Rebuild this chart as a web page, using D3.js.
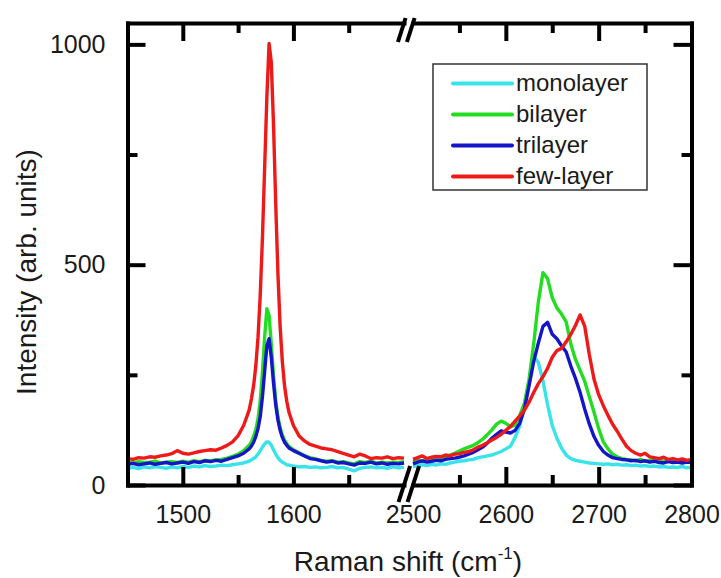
<!DOCTYPE html>
<html><head><meta charset="utf-8">
<script src="https://cdn.jsdelivr.net/npm/d3@7"></script>
<style>
html,body{margin:0;padding:0;background:#fff;}
svg text{font-family:"Liberation Sans",Arial,Helvetica,sans-serif;fill:#1a1a1a;}
</style></head><body>
<svg id="chart" width="721" height="578"></svg>
<script>
// ---- data: Raman spectra, G band window and 2D band window ----
const seriesNames = ["monolayer", "bilayer", "trilayer", "few-layer"];

// G band window (cm^-1)
const gShift = [1450,1455,1460,1465,1470,1475,1480,1485,1490,1495,1500,1505,1510,1515,1520,1525,1530,1535,1540,1545,1550,1555,1560,
  1562,1564,1566,1568,1570,1572,1574,1576,1578,1580,1582,1584,1586,1588,1590,1592,1594,1596,
  1600,1605,1610,1615,1620,1625,1630,1635,1640,1645,1650,1655,1660,1665,1670,1675,1680,1685,1690,1695,1700];
const gMonolayer = [38,40,37,41,39,42,40,38,41,39,42,40,43,41,44,42,43,45,44,46,48,50,54,
  57,60,64,70,78,86,93,98,97,90,80,70,62,56,52,49,46,45,
  43,41,42,40,41,39,40,42,39,40,36,32,38,40,41,39,40,38,41,39,40];
const gBilayer = [52,50,53,51,52,54,50,52,53,51,54,52,55,53,56,55,57,58,61,65,70,78,90,
  98,110,126,150,190,255,335,400,385,320,250,192,155,130,113,102,94,88,
  80,73,67,62,59,56,54,55,52,53,50,48,53,51,54,50,52,50,52,51,53];
const gTrilayer = [47,49,46,48,50,47,49,51,48,50,52,49,53,51,55,53,56,54,58,62,66,72,82,
  88,97,110,128,155,200,258,315,332,290,232,182,148,124,108,97,90,84,
  78,72,66,60,58,55,52,54,50,51,48,45,50,49,52,48,50,47,49,48,50];
const gFewLayer = [60,58,62,61,64,63,66,68,71,78,72,70,73,76,78,80,79,84,90,98,112,135,170,
  195,225,270,335,430,560,720,880,1002,960,820,640,480,360,280,225,190,165,
  135,112,100,92,88,84,82,80,76,72,68,64,70,66,60,62,61,64,60,62,61];

// 2D band window (cm^-1)
const dShift = [2500,2505,2510,2515,2520,2525,2530,2535,2540,2545,2550,2555,2560,2565,2570,2575,2580,2585,2590,2595,
  2600,2605,2610,2615,2620,2625,2630,2635,2640,2645,2650,2655,2660,2665,2670,2675,2680,2685,2690,2695,
  2700,2705,2710,2715,2720,2725,2730,2735,2740,2745,2750,2755,2760,2765,2770,2775,2780,2785,2790,2795,2800];
const dMonolayer = [42,44,46,44,47,45,48,47,50,52,54,55,57,58,62,64,66,68,72,76,
  82,88,108,135,180,232,292,278,236,182,135,106,84,68,60,56,54,52,50,49,
  48,47,48,46,47,45,46,44,45,43,44,42,43,41,42,40,41,40,42,39,40];
const dBilayer = [52,56,54,58,57,60,62,64,68,72,77,82,86,90,96,104,114,125,138,145,
  140,132,136,158,185,240,320,415,482,468,425,402,388,370,320,285,260,235,200,165,
  128,98,82,70,64,60,58,57,55,58,54,56,55,57,54,56,53,55,54,56,52];
const dTrilayer = [48,52,55,52,54,56,55,58,60,61,63,66,70,74,80,86,95,106,115,123,
  120,118,124,140,172,225,280,322,360,369,342,332,316,302,270,242,210,172,138,110,
  90,76,68,62,60,58,57,55,56,53,55,52,54,51,50,53,51,52,50,52,51];
const dFewLayer = [58,62,66,60,63,65,64,68,66,70,71,74,76,80,86,90,96,102,108,115,
  124,133,145,157,170,188,210,230,246,265,290,305,310,325,342,362,386,360,295,240,
  205,180,158,138,122,104,88,78,72,68,72,64,62,60,63,58,60,57,59,56,58];

const gSeries = [gMonolayer, gBilayer, gTrilayer, gFewLayer];
const dSeries = [dMonolayer, dBilayer, dTrilayer, dFewLayer];

// axis ticks
const yMajor = [0, 500, 1000];
const yMinor = [250, 750];
const gMajor = [1500, 1600];
const gMinor = [1550, 1650];
const dMajor = [2600, 2700, 2800];
const dMinor = [2550, 2650, 2750];
const dBreakLabel = [2500];

// ---- drawing ----
const colors = ["#38e4ea", "#22dd22", "#1515c8", "#ee1a1a"];
const svg = d3.select("#chart");

const plot = {left: 127.5, right: 691.5, top: 23, bottom: 485};
const y = d3.scaleLinear().domain([0, 1048.5]).range([plot.bottom, plot.top]);
const xG = d3.scaleLinear().domain([1450, 1700]).range([plot.left, 404]);
const xD = d3.scaleLinear().domain([2500, 2800]).range([413, plot.right]);

const FRAME = 4, MAJ = 18, MIN = 10;

function styleAxis(g) {
  g.selectAll(".domain").attr("stroke", "#000").attr("stroke-width", FRAME).attr("stroke-linecap", "square");
  g.selectAll(".tick line").attr("stroke", "#000").attr("stroke-width", FRAME);
  g.selectAll("text").attr("font-size", 25).attr("fill", "#1a1a1a")
    .attr("font-family", "'Liberation Sans', Arial, sans-serif");
}
function noDomain(g) { g.select(".domain").remove(); }

// spectra (drawn first, frame on top)
const line = (xs) => d3.line().x((d) => xs(d[0])).y((d) => y(d[1])).curve(d3.curveLinear);
const traces = svg.append("g");
gSeries.forEach((vals, i) => {
  traces.append("path").datum(gShift.map((s, k) => [s, vals[k]]))
    .attr("d", line(xG)).attr("fill", "none").attr("stroke", colors[i])
    .attr("stroke-width", 3.4).attr("stroke-linejoin", "round");
});
dSeries.forEach((vals, i) => {
  traces.append("path").datum(dShift.map((s, k) => [s, vals[k]]))
    .attr("d", line(xD)).attr("fill", "none").attr("stroke", colors[i])
    .attr("stroke-width", 3.4).attr("stroke-linejoin", "round");
});

// bottom and top axes (two segments each)
[[xG, gMajor, gMinor], [xD, dMajor, dMinor]].forEach(([xs, maj, mn]) => {
  svg.append("g").attr("transform", `translate(0,${plot.bottom})`)
    .call(d3.axisBottom(xs).tickValues(maj).tickSizeInner(-MAJ).tickSizeOuter(0).tickPadding(20).tickFormat(d3.format("d")))
    .call(styleAxis);
  svg.append("g").attr("transform", `translate(0,${plot.bottom})`)
    .call(d3.axisBottom(xs).tickValues(mn).tickSizeInner(-MIN).tickSizeOuter(0).tickFormat(""))
    .call(noDomain).call(styleAxis);
  svg.append("g").attr("transform", `translate(0,${plot.top})`)
    .call(d3.axisTop(xs).tickValues(maj).tickSizeInner(-MAJ).tickSizeOuter(0).tickFormat(""))
    .call(styleAxis);
  svg.append("g").attr("transform", `translate(0,${plot.top})`)
    .call(d3.axisTop(xs).tickValues(mn).tickSizeInner(-MIN).tickSizeOuter(0).tickFormat(""))
    .call(noDomain).call(styleAxis);
});
// label under the break
svg.append("g").attr("transform", `translate(0,${plot.bottom})`)
  .call(d3.axisBottom(xD).tickValues(dBreakLabel).tickSize(0).tickPadding(20).tickFormat(d3.format("d")))
  .call(noDomain).call(styleAxis);

// left and right axes
svg.append("g").attr("transform", `translate(${plot.left},0)`)
  .call(d3.axisLeft(y).tickValues(yMajor).tickSizeInner(-MAJ).tickSizeOuter(0).tickPadding(22).tickFormat(d3.format("d")))
  .call(styleAxis);
svg.append("g").attr("transform", `translate(${plot.left},0)`)
  .call(d3.axisLeft(y).tickValues(yMinor).tickSizeInner(-MIN).tickSizeOuter(0).tickFormat(""))
  .call(noDomain).call(styleAxis);
svg.append("g").attr("transform", `translate(${plot.right},0)`)
  .call(d3.axisRight(y).tickValues(yMajor).tickSizeInner(-MAJ).tickSizeOuter(0).tickFormat(""))
  .call(styleAxis);
svg.append("g").attr("transform", `translate(${plot.right},0)`)
  .call(d3.axisRight(y).tickValues(yMinor).tickSizeInner(-MIN).tickSizeOuter(0).tickFormat(""))
  .call(noDomain).call(styleAxis);

// axis-break marks
const gapEnds = [xG(1700), xD(2500)];
const slope = 0.32;
gapEnds.forEach((gx) => {
  [[plot.top - 5, plot.top + 19], [plot.bottom - 19, plot.bottom + 17]].forEach(([y0, y1]) => {
    const ay = y0 < 100 ? plot.top : plot.bottom;
    svg.append("line")
      .attr("x1", gx - (y0 - ay) * slope).attr("y1", y0)
      .attr("x2", gx - (y1 - ay) * slope).attr("y2", y1)
      .attr("stroke", "#000").attr("stroke-width", 4);
  });
});

// axis titles
svg.append("text")
  .attr("transform", "translate(26,272) rotate(-90)")
  .attr("text-anchor", "middle").attr("dominant-baseline", "central")
  .attr("font-size", 28).text("Intensity (arb. units)");
const xt = svg.append("text").attr("x", 408).attr("y", 571)
  .attr("text-anchor", "middle").attr("font-size", 28);
xt.append("tspan").text("Raman shift (cm");
xt.append("tspan").attr("dy", -12).attr("font-size", 17).text("-1");
xt.append("tspan").attr("dy", 12).text(")");

// legend
const legend = svg.append("g");
legend.append("rect").attr("x", 433).attr("y", 64).attr("width", 214).attr("height", 126)
  .attr("fill", "#fff").attr("stroke", "#333").attr("stroke-width", 1.5);
const rowY = d3.scalePoint().domain(seriesNames).range([83.5, 176.5]);
seriesNames.forEach((name, i) => {
  const yy = rowY(name);
  legend.append("line").attr("x1", 453).attr("x2", 512).attr("y1", yy).attr("y2", yy)
    .attr("stroke", colors[i]).attr("stroke-width", 4).attr("stroke-linecap", "round");
  legend.append("text").attr("x", 516).attr("y", yy + 7).attr("font-size", 24).text(name);
});
</script>
</body></html>
